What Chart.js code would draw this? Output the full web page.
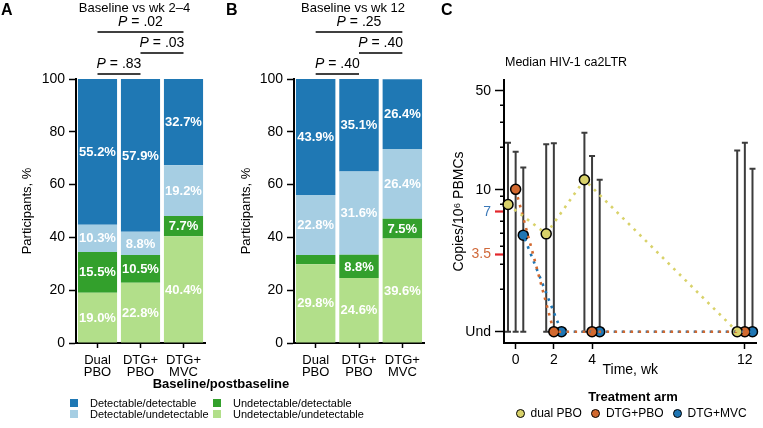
<!DOCTYPE html>
<html>
<head>
<meta charset="utf-8">
<script src="https://cdn.jsdelivr.net/npm/chart.js@4.4.1/dist/chart.umd.min.js"></script>
<style>
  html,body{margin:0;padding:0;background:#fff;}
  body{width:763px;height:428px;position:relative;overflow:hidden;font-family:"Liberation Sans",Arial,Helvetica,sans-serif;color:#000;}
  canvas{position:absolute;}
  .panel{position:absolute;font-weight:bold;font-size:16px;line-height:1;}
  .legtitle{position:absolute;font-weight:bold;font-size:13px;line-height:1;white-space:nowrap;transform:translate(-50%,-50%);}
  .legitem{position:absolute;font-size:11px;line-height:1;white-space:nowrap;transform:translateY(-50%);}
  .sw{position:absolute;width:8px;height:8px;transform:translateY(-50%);}
  .armrow{position:absolute;display:flex;align-items:center;transform:translateY(-50%);font-size:12px;line-height:1;white-space:nowrap;}
  .dot{width:9px;height:9px;border-radius:50%;border:1.5px solid #000;box-sizing:border-box;margin-right:6px;}
  .armitem{display:flex;align-items:center;margin-right:9px;}
</style>
</head>
<body>
<canvas id="chartA" width="230" height="390" style="left:0;top:0"></canvas>
<canvas id="chartB" width="215" height="390" style="left:230px;top:0"></canvas>
<canvas id="chartC" width="323" height="385" style="left:440px;top:0"></canvas>
<div class="panel" style="left:1px;top:2px">A</div>
<div class="panel" style="left:226px;top:2px">B</div>
<div class="panel" style="left:441px;top:2px">C</div>
<div style="position:absolute;left:505px;top:62px;transform:translateY(-50%);font-size:12.5px;line-height:1;white-space:nowrap">Median HIV-1 ca2LTR</div>
<div id="legendBars"></div>
<div id="legendArms"></div>
<script>
// ---------------- Data ----------------
const barCategories = [['Dual', 'PBO'], ['DTG+', 'PBO'], ['DTG+', 'MVC']];
const statusNames = ['Detectable/detectable', 'Detectable/undetectable', 'Undetectable/detectable', 'Undetectable/undetectable'];
const percentTicks = [0, 20, 40, 60, 80, 100];

// Panel A: baseline vs wk 2–4 (% participants)
const wk2to4DetDet = [55.2, 57.9, 32.7];
const wk2to4DetUnd = [10.3, 8.8, 19.2];
const wk2to4UndDet = [15.5, 10.5, 7.7];
const wk2to4UndUnd = [19.0, 22.8, 40.4];
const wk2to4PLabels = ['.02', '.03', '.83'];
const wk2to4PPairs = [[0, 2], [1, 2], [0, 1]];

// Panel B: baseline vs wk 12 (% participants)
const wk12DetDet = [43.9, 35.1, 26.4];
const wk12DetUnd = [22.8, 31.6, 26.4];
const wk12UndDet = [3.5, 8.8, 7.5];
const wk12UndUnd = [29.8, 24.6, 39.6];
const wk12PLabels = ['.25', '.40', '.40'];
const wk12PPairs = [[0, 2], [1, 2], [0, 1]];

// Panel C: median HIV-1 ca2LTR copies / 10^6 PBMCs
const armNames = ['dual PBO', 'DTG+PBO', 'DTG+MVC'];
const timeWeeks = [0, 2, 4, 12];
const UND = 1;
const dualPboMedian = [7.9, 4.9, 11.8, UND];
const dualPboUpper  = [21.5, 21.0, 25.3, 19.0];
const dtgPboMedian  = [10.1, UND, UND, UND];
const dtgPboUpper   = [18.6, 21.4, 17.4, 21.5];
const dtgMvcMedian  = [4.8, UND, UND, UND];
const dtgMvcUpper   = [14.4, null, 11.8, 14.1];
const copiesTicks = [1, 2, 3, 3.5, 4, 5, 6, 7, 8, 9, 10, 20, 30, 40, 50];
const copiesTickLabels = {'1': 'Und', '3.5': '3.5', '7': '7', '10': '10', '50': '50'};

// ---------------- Styles ----------------
const FONT = '"Liberation Sans", Arial, Helvetica, sans-serif';
Chart.defaults.font.family = FONT;
Chart.defaults.color = '#000';
const statusColors = ['#1f78b4', '#a6cee3', '#33a02c', '#b2df8a'];
const armColors = ['#d9d26a', '#d2692f', '#1f76b4'];
const armDodge = [-0.4, 0, 0.4];

// ---------------- Plugins ----------------
const bracketPlugin = {
  id: 'brackets',
  afterDraw(chart, args, o) {
    if (!o || !o.labels) return;
    const ctx = chart.ctx, xs = chart.scales.x;
    ctx.save();
    ctx.fillStyle = '#000'; ctx.strokeStyle = '#000';
    ctx.textBaseline = 'middle';
    const first = xs.getPixelForValue(0), last = xs.getPixelForValue(barCategories.length - 1);
    ctx.font = '13px ' + FONT; ctx.textAlign = 'center';
    ctx.fillText(o.title, (first + last) / 2 - 6, 8.5);
    o.labels.forEach((lab, i) => {
      const x1 = xs.getPixelForValue(o.pairs[i][0]);
      const x2 = xs.getPixelForValue(o.pairs[i][1]);
      const ly = 32 + 21 * i;
      ctx.lineWidth = 1.3;
      ctx.beginPath(); ctx.moveTo(x1, ly); ctx.lineTo(x2, ly); ctx.stroke();
      const fI = 'italic 14px ' + FONT, fR = '14px ' + FONT;
      ctx.font = fI; const wP = ctx.measureText('P').width;
      ctx.font = fR; const rest = ' = ' + lab; const wR = ctx.measureText(rest).width;
      const sx = (x1 + x2) / 2 - (wP + wR) / 2;
      ctx.textAlign = 'left';
      ctx.font = fI; ctx.fillText('P', sx, ly - 10);
      ctx.font = fR; ctx.fillText(rest, sx + wP, ly - 10);
    });
    ctx.restore();
  }
};

const barLabelPlugin = {
  id: 'barLabels',
  afterDatasetsDraw(chart) {
    const ctx = chart.ctx;
    ctx.save();
    ctx.font = 'bold 13px ' + FONT;
    ctx.fillStyle = '#fff'; ctx.textAlign = 'center'; ctx.textBaseline = 'middle';
    chart.data.datasets.forEach((ds, di) => {
      chart.getDatasetMeta(di).data.forEach((bar, i) => {
        const v = ds.data[i];
        if (v < 5) return;
        ctx.fillText(v.toFixed(1) + '%', bar.x, (bar.y + bar.base) / 2 + 0.5);
      });
    });
    ctx.restore();
  }
};

function barChart(id, title, series, pLabels, pPairs, yWidth, padRight, titlePad) {
  const order = [3, 2, 1, 0];
  const datasets = order.map(k => ({
    label: statusNames[k], data: series[k], backgroundColor: statusColors[k],
    borderWidth: 0, barPercentage: 0.91, categoryPercentage: 1
  }));
  return new Chart(document.getElementById(id), {
    type: 'bar',
    data: { labels: barCategories, datasets },
    plugins: [bracketPlugin, barLabelPlugin],
    options: {
      responsive: false, animation: false, events: [],
      layout: { padding: { top: 79, right: padRight, left: 0, bottom: 0 } },
      plugins: { legend: { display: false }, tooltip: { enabled: false },
        brackets: { title, labels: pLabels, pairs: pPairs } },
      scales: {
        x: { stacked: true, afterFit: s => { s.height = 47; },
          border: { display: true, color: '#000', width: 2 },
          grid: { display: true, drawOnChartArea: false, offset: false, tickLength: 5, tickColor: '#000', tickWidth: 1.5 },
          ticks: { padding: 6.5, font: { size: 13, lineHeight: 0.9 }, color: '#000', maxRotation: 0, autoSkip: false } },
        y: { stacked: true, min: 0, max: 100,
          afterBuildTicks: s => { s.ticks = percentTicks.map(v => ({ value: v })); },
          afterFit: s => { s.width = yWidth; },
          border: { color: '#000', width: 2 },
          grid: { drawOnChartArea: false, tickLength: 7, tickColor: '#000', tickWidth: 1.5 },
          ticks: { padding: 4, font: { size: 14 }, color: '#000' },
          title: { display: true, text: 'Participants, %', font: { size: 13 }, color: '#000', padding: { top: titlePad, bottom: 0 } } }
      }
    }
  });
}

barChart('chartA', 'Baseline vs wk 2\u20134', [wk2to4DetDet, wk2to4DetUnd, wk2to4UndDet, wk2to4UndUnd], wk2to4PLabels, wk2to4PPairs, 76, 25, 20);
barChart('chartB', 'Baseline vs wk 12', [wk12DetDet, wk12DetUnd, wk12UndDet, wk12UndUnd], wk12PLabels, wk12PPairs, 64, 21, 9);

// ---------------- Panel C ----------------
const arms = [
  { median: dualPboMedian, upper: dualPboUpper },
  { median: dtgPboMedian, upper: dtgPboUpper },
  { median: dtgMvcMedian, upper: dtgMvcUpper }
];
const armPoints = a => timeWeeks.map((w, i) => ({ x: w + armDodge[a], y: arms[a].median[i] }));

const errorBarPlugin = {
  id: 'errorBars',
  beforeDatasetsDraw(chart) {
    const ctx = chart.ctx, xs = chart.scales.x, ys = chart.scales.y;
    ctx.save();
    ctx.strokeStyle = '#3c3c3c'; ctx.lineWidth = 2;
    arms.forEach((arm, a) => {
      timeWeeks.forEach((w, i) => {
        const up = arm.upper[i];
        if (up == null) return;
        const x = xs.getPixelForValue(w + armDodge[a]);
        const y0 = ys.getPixelForValue(UND), y1 = ys.getPixelForValue(up);
        ctx.beginPath();
        ctx.moveTo(x, y0); ctx.lineTo(x, y1);
        ctx.moveTo(x - 3, y1); ctx.lineTo(x + 3, y1);
        ctx.moveTo(x - 3, y0); ctx.lineTo(x + 3, y0);
        ctx.stroke();
      });
    });
    ctx.restore();
  },
  afterDraw(chart) {
    const ctx = chart.ctx, ys = chart.scales.y, left = chart.chartArea.left;
    ctx.save();
    ctx.strokeStyle = '#000'; ctx.lineWidth = 1.5;
    copiesTicks.forEach(v => {
      if (copiesTickLabels[String(v)] !== undefined) return;
      const y = Math.round(ys.getPixelForValue(v)) + 0.25;
      ctx.beginPath(); ctx.moveTo(left - 4, y); ctx.lineTo(left, y); ctx.stroke();
    });
    ctx.restore();
  }
};

const lineSets = arms.map((arm, a) => ({
  label: armNames[a] + ' line', data: armPoints(a), showLine: true,
  borderColor: armColors[a], borderWidth: 2.6, borderDash: [2.6, 5.4], borderCapStyle: 'butt',
  pointRadius: 0, clip: false, borderDashOffset: a === 2 ? 4 : 0
}));
const pointSets = arms.map((arm, a) => ({
  label: armNames[a], data: armPoints(a), showLine: false,
  backgroundColor: armColors[a], borderColor: '#000', borderWidth: 1.5,
  pointRadius: 5, clip: false
}));

function tickVal(c) { return c.tick ? c.tick.value : null; }

new Chart(document.getElementById('chartC'), {
  type: 'scatter',
  data: { datasets: [...lineSets, ...pointSets] },
  plugins: [errorBarPlugin],
  options: {
    responsive: false, animation: false, events: [],
    layout: { padding: { top: 80, right: 0, left: 0, bottom: 0 } },
    plugins: { legend: { display: false }, tooltip: { enabled: false } },
    scales: {
      x: { type: 'linear', min: -0.61, max: 12.61,
        afterBuildTicks: s => { s.ticks = timeWeeks.map(v => ({ value: v })); },
        afterFit: s => { s.height = 42; },
        border: { color: '#000', width: 2 },
        grid: { drawOnChartArea: false, tickLength: 6, tickColor: '#000', tickWidth: 1.5 },
        ticks: { autoSkip: false, padding: 3, font: { size: 14 }, color: '#000', maxRotation: 0 },
        title: { display: true, text: 'Time, wk', font: { size: 14 }, color: '#000', padding: { top: 0, bottom: 6.6 } } },
      y: { type: 'logarithmic', min: 0.832, max: 59.7,
        afterBuildTicks: s => { s.ticks = copiesTicks.map(v => ({ value: v })); },
        afterFit: s => { s.width = 64; },
        border: { color: '#000', width: 2 },
        grid: { drawOnChartArea: false, tickLength: 9,
          tickColor: c => { const v = tickVal(c); if (v === 3.5 || v === 7) return '#e3262b'; return copiesTickLabels[String(v)] !== undefined ? '#000' : 'rgba(0,0,0,0)'; },
          tickWidth: c => { const v = tickVal(c); return (v === 3.5 || v === 7) ? 2.2 : 1.5; } },
        ticks: { autoSkip: false, padding: 4, font: { size: 14 },
          callback: v => copiesTickLabels[String(v)] || '',
          color: c => { const v = tickVal(c); if (v === 7) return '#3b78b8'; if (v === 3.5) return '#d0693a'; return '#000'; } },
        title: { display: true, text: 'Copies/10\u2076 PBMCs', font: { size: 14 }, color: '#000', padding: { top: 10.6, bottom: 0 } } }
    }
  }
});

// ---------------- HTML legends ----------------
(function () {
  const lb = document.getElementById('legendBars');
  const t = document.createElement('div');
  t.className = 'legtitle'; t.style.left = '221px'; t.style.top = '383px';
  t.textContent = 'Baseline/postbaseline';
  lb.appendChild(t);
  const colX = [70, 213], rowY = [403, 413.5];
  statusNames.forEach((name, k) => {
    const cx = colX[Math.floor(k / 2)], cy = rowY[k % 2];
    const sw = document.createElement('div');
    sw.className = 'sw'; sw.style.left = cx + 'px'; sw.style.top = cy + 'px'; sw.style.background = statusColors[k];
    lb.appendChild(sw);
    const tx = document.createElement('div');
    tx.className = 'legitem'; tx.style.left = (cx + 20) + 'px'; tx.style.top = cy + 'px'; tx.textContent = name;
    lb.appendChild(tx);
  });

  const la = document.getElementById('legendArms');
  const t2 = document.createElement('div');
  t2.className = 'legtitle'; t2.style.left = '633px'; t2.style.top = '396px';
  t2.textContent = 'Treatment arm';
  la.appendChild(t2);
  const row = document.createElement('div');
  row.className = 'armrow'; row.style.left = '515.5px'; row.style.top = '413px';
  armNames.forEach((name, a) => {
    const it = document.createElement('div'); it.className = 'armitem';
    const d = document.createElement('div'); d.className = 'dot'; d.style.background = armColors[a];
    const s = document.createElement('span'); s.textContent = name;
    it.appendChild(d); it.appendChild(s); row.appendChild(it);
  });
  la.appendChild(row);
})();
</script>
</body>
</html>
